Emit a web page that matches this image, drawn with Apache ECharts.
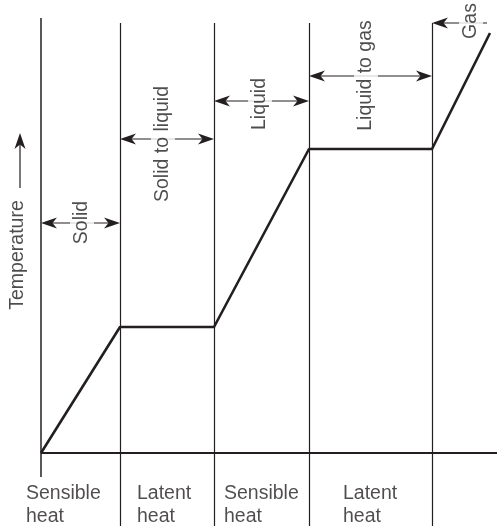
<!DOCTYPE html>
<html><head><meta charset="utf-8">
<script src="https://cdn.jsdelivr.net/npm/echarts@6/dist/echarts.min.js"></script>
<style>html,body{margin:0;padding:0;background:#fff}#c{width:497px;height:526px}</style>
</head><body><div id="c"></div>
<script>
// ---- data (arbitrary units) ----
const heatAdded   = [0, 7.9, 17.3, 26.8, 39.1, 44.9];
const temperature = [0, 12.6, 12.6, 30.4, 30.4, 42.0];
const phaseNames  = ['Solid', 'Solid to liquid', 'Liquid', 'Liquid to gas', 'Gas'];
const phaseArrowLevel = [23.0, 31.4, 35.2, 37.7, 43.0];
const heatTypes   = ['Sensible\nheat', 'Latent\nheat', 'Sensible\nheat', 'Latent\nheat'];
const yAxisTitle  = 'Temperature';

// ---- layout / style ----
const INK = '#231f20';
const FONT = '"Liberation Sans", Arial, Helvetica, sans-serif';
const FS = 19.5;
const xMin = -4.1, xMax = 45.6, yMin = -7.3, yMax = 45.3;
const boundaryTop = 43.0, yAxisTop = 43.5, yAxisBottom = -2.4;
const phaseLabelPos = [[4.1, 23.05], [12.2, 30.9], [21.9, 34.9], [32.5, 37.75], [43.0, 43.2]];
const heatLabelPos  = [[-1.5, -5.17], [9.6, -5.17], [18.3, -5.17], [30.2, -5.17]];
const gasArrowEnd = 44.6;
const titlePos = [-2.3, 19.8];
const titleArrow = [[-2.1, 26.5], [-2.1, 32.0]];
const HEAD_L = 16, HEAD_HW = 5.5, NOTCH = 0.72;

const curve = heatAdded.map((x, i) => [x, temperature[i]]);
const SOLID = (w) => ({ width: w, color: INK, type: 'solid' });

function seg(a, b, w) {
  return [{ coord: a, symbol: 'none', lineStyle: SOLID(w) },
          { coord: b, symbol: 'none', lineStyle: SOLID(w) }];
}

const frame = [];
frame.push(seg([0, yAxisBottom], [0, yAxisTop], 1.5));
frame.push(seg([0, 0], [xMax, 0], 2));
for (let i = 1; i <= 4; i++) frame.push(seg([heatAdded[i], boundaryTop], [heatAdded[i], yMin], 1.2));

// arrow items: [xa, ya, xb, yb, headAtA, headAtB]
const arrowItems = [];
for (let i = 0; i < phaseNames.length; i++) {
  const x0 = heatAdded[i];
  const x1 = i < 4 ? heatAdded[i + 1] : gasArrowEnd;
  const y = phaseArrowLevel[i];
  arrowItems.push([x0, y, x1, y, 1, i < 4 ? 1 : 0]);
}
arrowItems.push([titleArrow[0][0], titleArrow[0][1], titleArrow[1][0], titleArrow[1][1], 0, 1]);

function head(tip, ux, uy) {
  // ux,uy: unit vector pointing from tip back along the shaft
  const nx = -uy, ny = ux;
  const bx = tip[0] + ux * HEAD_L, by = tip[1] + uy * HEAD_L;
  const mx = tip[0] + ux * HEAD_L * NOTCH, my = tip[1] + uy * HEAD_L * NOTCH;
  return {
    type: 'polygon',
    shape: { points: [tip, [bx + nx * HEAD_HW, by + ny * HEAD_HW], [mx, my], [bx - nx * HEAD_HW, by - ny * HEAD_HW]] },
    style: { fill: INK, stroke: null }
  };
}

function renderArrow(params, api) {
  const a = api.coord([api.value(0), api.value(1)]);
  const b = api.coord([api.value(2), api.value(3)]);
  const ha = api.value(4), hb = api.value(5);
  const dx = b[0] - a[0], dy = b[1] - a[1];
  const len = Math.hypot(dx, dy);
  const ux = dx / len, uy = dy / len;
  const sa = ha ? [a[0] + ux * HEAD_L * 0.6, a[1] + uy * HEAD_L * 0.6] : a;
  const sb = hb ? [b[0] - ux * HEAD_L * 0.6, b[1] - uy * HEAD_L * 0.6] : b;
  const children = [{
    type: 'line',
    shape: { x1: sa[0], y1: sa[1], x2: sb[0], y2: sb[1] },
    style: { stroke: INK, lineWidth: 1.2 }
  }];
  if (ha) children.push(head(a, ux, uy));
  if (hb) children.push(head(b, -ux, -uy));
  return { type: 'group', children };
}

const phaseLabels = phaseNames.map((n, i) => ({
  value: phaseLabelPos[i],
  label: { formatter: n }
}));
phaseLabels.push({ value: titlePos, label: { formatter: yAxisTitle, backgroundColor: 'transparent' } });

const heatLabels = heatTypes.map((n, i) => ({ value: heatLabelPos[i], label: { formatter: n } }));

const chart = echarts.init(document.getElementById('c'), null, { renderer: 'canvas' });
chart.setOption({
  animation: false,
  backgroundColor: '#fff',
  grid: { left: 0, right: 0, top: 0, bottom: 0 },
  xAxis: { type: 'value', min: xMin, max: xMax, show: false },
  yAxis: { type: 'value', min: yMin, max: yMax, show: false },
  series: [
    {
      type: 'line', z: 2, data: [], silent: true,
      markLine: {
        silent: true, animation: false, symbol: 'none',
        label: { show: false }, emphasis: { disabled: true },
        lineStyle: { color: INK, type: 'solid', width: 1.2 },
        data: frame
      }
    },
    {
      type: 'custom', z: 2, silent: true, data: arrowItems,
      encode: { x: [0, 2], y: [1, 3] },
      renderItem: renderArrow
    },
    {
      type: 'line', z: 3, data: curve, symbol: 'none', silent: true,
      lineStyle: { color: INK, width: 2.6 }, clip: false
    },
    {
      type: 'scatter', z: 10, symbolSize: 0, silent: true, data: phaseLabels,
      label: {
        show: true, position: 'inside', rotate: 90, color: INK,
        fontFamily: FONT, fontSize: FS, backgroundColor: '#fff', padding: [2, 2]
      }
    },
    {
      type: 'scatter', z: 10, symbolSize: 0, silent: true, data: heatLabels,
      label: {
        show: true, position: 'right', distance: 0, align: 'left', verticalAlign: 'middle',
        color: INK, fontFamily: FONT, fontSize: FS, lineHeight: 23
      }
    }
  ]
});
</script>
</body></html>
